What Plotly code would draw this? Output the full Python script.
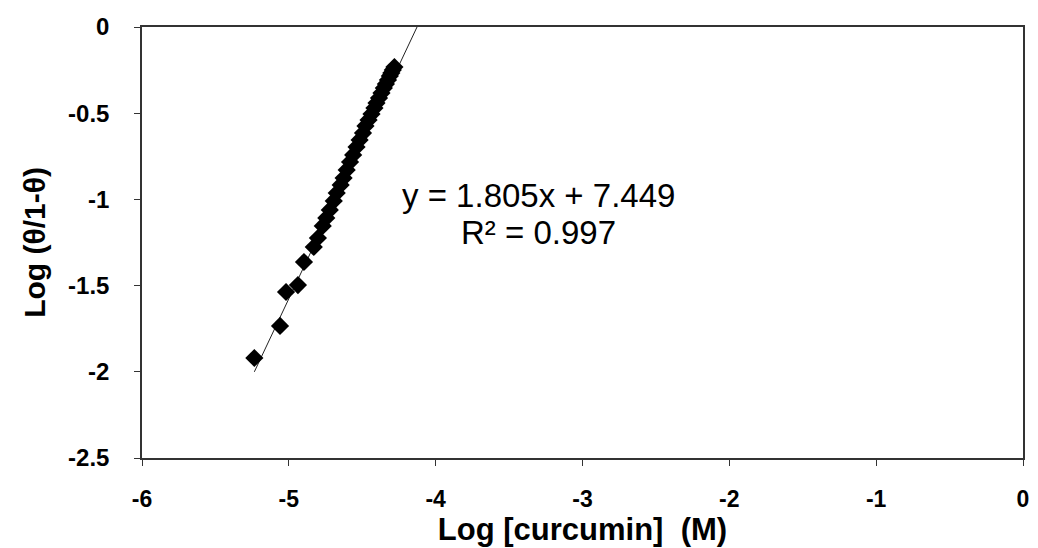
import plotly.graph_objects as go

# Data
log_curcumin = [-5.235, -5.060, -5.019, -4.938, -4.897, -4.830, -4.802, -4.769, -4.745,
                -4.721, -4.694, -4.674, -4.647, -4.627, -4.606, -4.583, -4.562, -4.539,
                -4.518, -4.495, -4.478, -4.457, -4.437, -4.417, -4.403, -4.386, -4.369,
                -4.353, -4.339, -4.325, -4.312, -4.302, -4.292, -4.281]
log_theta = [-1.920, -1.734, -1.537, -1.497, -1.363, -1.276, -1.224, -1.154, -1.108,
             -1.061, -1.009, -0.963, -0.916, -0.876, -0.829, -0.783, -0.742, -0.696,
             -0.655, -0.615, -0.574, -0.539, -0.505, -0.470, -0.441, -0.412, -0.383,
             -0.354, -0.331, -0.307, -0.284, -0.267, -0.249, -0.232]

slope = 1.805
intercept = 7.449
trend_x = [-5.235, -4.10]
trend_y = [slope * v + intercept for v in trend_x]

x_ticks = [-6, -5, -4, -3, -2, -1, 0]
x_tick_labels = ["-6", "-5", "-4", "-3", "-2", "-1", "0"]
y_ticks = [0, -0.5, -1, -1.5, -2, -2.5]
y_tick_labels = ["0", "-0.5", "-1", "-1.5", "-2", "-2.5"]

eq_text = "y = 1.805x + 7.449"
r2_text = "R² = 0.997"

font_family = "Liberation Sans, Arial, sans-serif"

fig = go.Figure()
fig.add_trace(go.Scatter(x=trend_x, y=trend_y, mode="lines",
                         line=dict(color="#222222", width=1), showlegend=False,
                         hoverinfo="skip"))
fig.add_trace(go.Scatter(x=log_curcumin, y=log_theta, mode="markers",
                         marker=dict(symbol="diamond", size=14, color="black",
                                     line=dict(width=0)),
                         showlegend=False))

fig.add_annotation(x=-3.30, y=-0.975, xref="x", yref="y", text=eq_text, showarrow=False,
                   font=dict(family=font_family, size=33, color="black"))
fig.add_annotation(x=-3.30, y=-1.19, xref="x", yref="y", text=r2_text, showarrow=False,
                   font=dict(family=font_family, size=33, color="black"))

fig.update_layout(
    width=1038, height=548,
    margin=dict(l=142, r=9, t=27, b=90),
    paper_bgcolor="white", plot_bgcolor="white",
    font=dict(family=font_family, color="black"),
)
fig.update_xaxes(range=[-6, 0], tickvals=x_ticks, ticktext=x_tick_labels,
                 showgrid=False, zeroline=False, showline=True, linecolor="#333333",
                 linewidth=1.5, mirror=True, ticks="outside", ticklen=6,
                 tickcolor="#333333", ticklabelstandoff=14,
                 tickfont=dict(family=font_family, size=23, color="black", weight="bold"),
                 title=dict(text="Log [curcumin]  (M)", standoff=4,
                            font=dict(family=font_family, size=31, color="black", weight="bold")))
fig.update_yaxes(range=[-2.5, 0], tickvals=y_ticks, ticktext=y_tick_labels,
                 showgrid=False, zeroline=False, showline=True, linecolor="#333333",
                 linewidth=1.5, mirror=True, ticks="outside", ticklen=6,
                 tickcolor="#333333", ticklabelstandoff=20,
                 tickfont=dict(family=font_family, size=24, color="black", weight="bold"),
                 title=dict(text="Log (θ/1-θ)", standoff=14,
                            font=dict(family=font_family, size=30, color="black", weight="bold")))

fig.write_html("out.html")
